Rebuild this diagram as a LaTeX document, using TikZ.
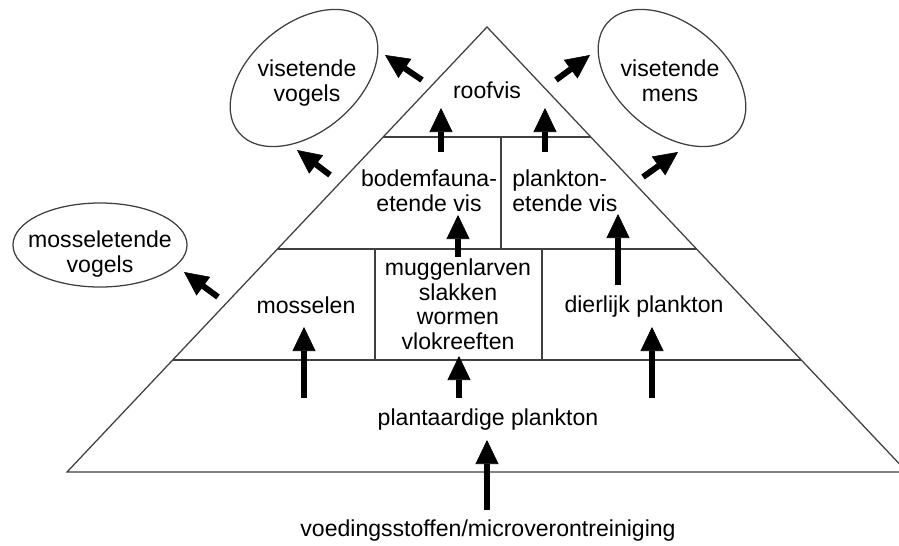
\documentclass[tikz,border=0pt]{standalone}
\usepackage{fontspec}
\setmainfont{Liberation Sans}
\usetikzlibrary{shapes.geometric,arrows.meta,calc}
\tikzset{
  pyramid line/.style={draw=black!75, line width=0.9pt},
  feeder shape/.style={shape=ellipse, draw=black!75, line width=0.9pt, inner sep=0pt},
  food text/.style={inner sep=0pt, align=center, font=\fontsize{16.4}{17.6}\selectfont},
  food arrow/.style={line width=0.15cm,
    -{Triangle[length=0.6cm, width=0.575cm, line width=0.4pt]}},
}

\begin{document}
\begin{tikzpicture}[x=0.025cm, y=-0.025cm]
\useasboundingbox (0,0) rectangle (899,545);
\draw[pyramid line] (487,27) coordinate (top) -- (907,472) coordinate (base right)
  -- (67,472) coordinate (base left) -- cycle;
\foreach \f in {0.2472,0.4989,0.7483}
  \draw[pyramid line] ($(top)!\f!(base left)$) -- ($(top)!\f!(base right)$);
\draw[pyramid line] (501,137) -- (501,249);
\draw[pyramid line] (375,249) -- (375,360) (542,249) -- (542,360);

\node[food text, anchor=base] (roofvis) at (487,98) {roofvis};
\node[food text, anchor=north] (bodemvis) at (429,169.5) {bodemfauna-\\etende vis};
\node[food text, anchor=north west, align=left] (planktonvis) at (512,169.5) {plankton-\\etende vis};
\node[food text, anchor=base] (mosselen) at (306,313) {mosselen};
\node[food text, anchor=north] (bodemfauna) at (458,258.5)
  {muggenlarven\\slakken\\wormen\\vlokreeften};
\node[food text, anchor=base] (dierplankton) at (644,312) {dierlijk plankton};
\node[food text, anchor=base] (plantplankton) at (488,425) {plantaardige plankton};
\node[food text, anchor=base] (voeding) at (488,536) {voedingsstoffen/microverontreiniging};

\node[feeder shape, rotate=40, minimum width=4.25cm, minimum height=2.7cm] (visvogels) at (304,78) {};
\node[food text, anchor=north] (visvogels text) at (307,59.5) {visetende\\vogels};
\node[feeder shape, rotate=-40, minimum width=4.25cm, minimum height=2.7cm] (vismens) at (672,78) {};
\node[food text, anchor=north] (vismens text) at (670,59.5) {visetende\\mens};
\node[feeder shape, minimum width=4.35cm, minimum height=2.1cm] (mosselvogels) at (100,245) {};
\node[food text, anchor=north] (mosselvogels text) at (100,230.5) {mosseletende\\vogels};

\foreach \n/\xa/\ya/\xb/\yb in
  {roof-vogels/422/80/385/55, bodem-vogels/330/175/297/150,
   roof-mens/556/80/590/55, plankton-mens/643/177/678/152,
   mossel-vogels/218/297/184/272,
   bodem-roof/441/152/441/108, plankton-roof/545/152/545/108,
   fauna-bodem/458/257/458/215, dier-plankton/618/285/618/214,
   plant-mossel/304/398/304/327, plant-fauna/459/398/459/356,
   plant-dier/652/398/652/327, voeding-plant/487/510/487/440}{
  \coordinate (\n tail) at (\xa,\ya);
  \coordinate (\n head) at (\xb,\yb);
  \draw[food arrow] (\n tail) -- (\n head);
}
\end{tikzpicture}
\end{document}
